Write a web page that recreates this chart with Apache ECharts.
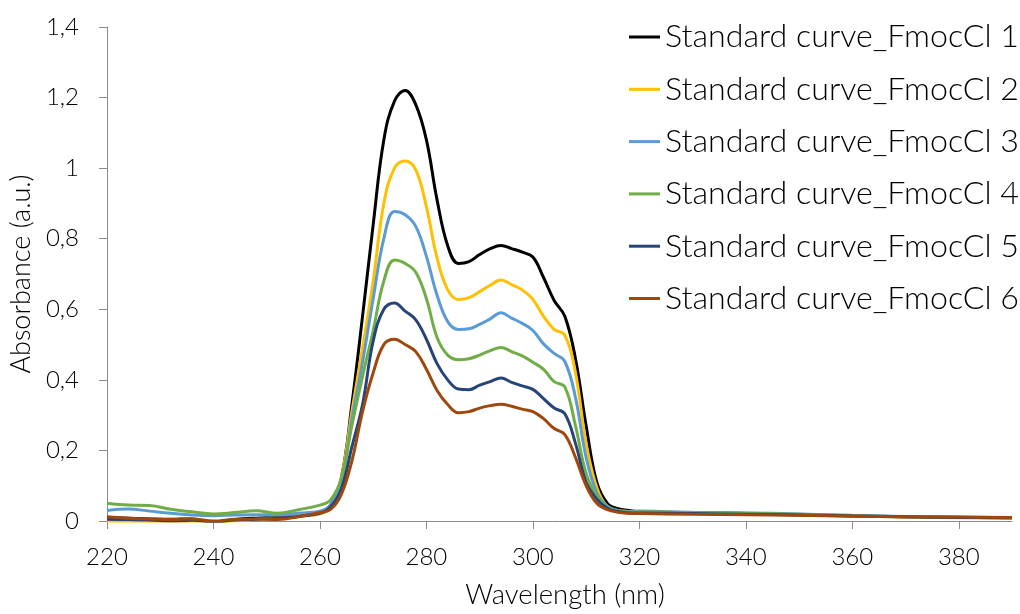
<!DOCTYPE html>
<html>
<head>
<meta charset="utf-8">
<script src="https://cdn.jsdelivr.net/npm/echarts@6/dist/echarts.min.js"></script>
<style>
  html, body { margin: 0; padding: 0; background: #fff; }
  #chart { width: 1020px; height: 614px; }
</style>
</head>
<body>
<div id="chart"></div>
<script>
// wavelength (nm)
const wavelength = [220, 224, 228, 232, 236, 240, 244, 248, 252, 256, 260,
  262, 264, 266, 268, 270, 272, 274, 276, 278, 280, 282, 284, 286, 288, 290,
  292, 294, 296, 298, 300, 302, 304, 306, 308, 310, 312, 314, 316, 318,
  320, 330, 340, 350, 360, 370, 380, 390]

const fmoc1 = [0.010, 0.008, 0.006, 0.005, 0.006, -0.004, 0.004, 0.008, 0.010, 0.014, 0.025,
  0.045, 0.12, 0.33, 0.58, 0.84, 1.08, 1.19, 1.22, 1.18, 1.08, 0.91, 0.78, 0.73, 0.735, 0.755,
  0.772, 0.781, 0.772, 0.762, 0.748, 0.69, 0.625, 0.58, 0.46, 0.27, 0.11, 0.05, 0.035, 0.03,
  0.026, 0.023, 0.021, 0.018, 0.015, 0.012, 0.010, 0.009]
const fmoc2 = [0.000, -0.003, -0.004, -0.004, -0.003, -0.004, 0.000, 0.005, 0.008, 0.015, 0.020,
  0.04, 0.12, 0.31, 0.49, 0.68, 0.90, 1.00, 1.02, 0.995, 0.89, 0.745, 0.655, 0.628, 0.633, 0.65,
  0.668, 0.683, 0.67, 0.655, 0.628, 0.58, 0.543, 0.527, 0.42, 0.22, 0.095, 0.04, 0.03, 0.027,
  0.025, 0.022, 0.020, 0.017, 0.014, 0.011, 0.009, 0.007]
const fmoc3 = [0.030, 0.034, 0.028, 0.022, 0.017, 0.015, 0.017, 0.018, 0.017, 0.022, 0.028,
  0.045, 0.11, 0.29, 0.45, 0.63, 0.80, 0.877, 0.868, 0.835, 0.75, 0.64, 0.565, 0.543, 0.545, 0.557,
  0.573, 0.59, 0.575, 0.56, 0.54, 0.502, 0.475, 0.452, 0.35, 0.18, 0.08, 0.042, 0.03, 0.027,
  0.028, 0.025, 0.023, 0.020, 0.016, 0.013, 0.011, 0.009]
const fmoc4 = [0.050, 0.045, 0.044, 0.033, 0.026, 0.020, 0.024, 0.029, 0.022, 0.032, 0.045,
  0.06, 0.12, 0.27, 0.41, 0.54, 0.68, 0.74, 0.73, 0.705, 0.63, 0.52, 0.47, 0.457, 0.46, 0.47,
  0.483, 0.492, 0.48, 0.468, 0.45, 0.43, 0.395, 0.38, 0.27, 0.135, 0.07, 0.038, 0.028, 0.025,
  0.026, 0.024, 0.022, 0.019, 0.015, 0.012, 0.010, 0.009]
const fmoc5 = [0.005, 0.004, 0.003, 0.000, 0.002, -0.002, 0.003, 0.005, 0.008, 0.013, 0.022,
  0.04, 0.09, 0.21, 0.33, 0.51, 0.60, 0.618, 0.595, 0.57, 0.515, 0.446, 0.40, 0.374, 0.372, 0.385,
  0.395, 0.405, 0.393, 0.383, 0.373, 0.347, 0.32, 0.304, 0.22, 0.11, 0.062, 0.036, 0.027, 0.023,
  0.023, 0.021, 0.019, 0.017, 0.014, 0.012, 0.010, 0.009]
const fmoc6 = [0.012, 0.008, 0.006, 0.004, 0.006, 0.000, 0.005, 0.006, 0.004, 0.012, 0.024,
  0.033, 0.075, 0.17, 0.31, 0.42, 0.50, 0.515, 0.50, 0.48, 0.43, 0.37, 0.33, 0.307, 0.31, 0.32,
  0.327, 0.331, 0.325, 0.317, 0.31, 0.29, 0.262, 0.245, 0.18, 0.10, 0.05, 0.032, 0.025, 0.022,
  0.021, 0.019, 0.018, 0.016, 0.014, 0.012, 0.011, 0.010]

const seriesNames = ['Standard curve_FmocCl 1', 'Standard curve_FmocCl 2', 'Standard curve_FmocCl 3',
  'Standard curve_FmocCl 4', 'Standard curve_FmocCl 5', 'Standard curve_FmocCl 6']
const seriesColors = ['#000000', '#FFC000', '#5B9BD5', '#70AD47', '#264478', '#9E480E']
const xTicks = [220, 240, 260, 280, 300, 320, 340, 360, 380]

const allValues = [fmoc1, fmoc2, fmoc3, fmoc4, fmoc5, fmoc6]
const font = 'Lato, "Open Sans", sans-serif'
const axisGrey = '#8c8c8c'

const chart = echarts.init(document.getElementById('chart'), null, { renderer: 'canvas' })
chart.setOption({
  animation: false,
  backgroundColor: '#ffffff',
  grid: { left: 107, right: 8, top: 27, bottom: 88 },
  legend: {
    orient: 'vertical',
    left: 629,
    top: 16,
    padding: 0,
    itemGap: 10.3,
    itemWidth: 31,
    itemHeight: 3,
    icon: 'rect',
    textStyle: { fontFamily: font, fontSize: 32.2, fontWeight: 300, color: '#000', lineHeight: 42 },
    data: seriesNames
  },
  xAxis: {
    type: 'value',
    min: 220,
    max: 390,
    interval: 20,
    name: 'Wavelength (nm)',
    nameLocation: 'middle',
    nameGap: 60,
    nameTextStyle: { fontFamily: font, fontSize: 27.5, fontWeight: 300, color: '#000', padding: [0, 0, 0, 11] },
    axisLine: { lineStyle: { color: axisGrey, width: 1 } },
    axisTick: { length: 8, lineStyle: { color: axisGrey }, customValues: xTicks },
    axisLabel: { margin: 24, fontFamily: font, fontSize: 24, fontWeight: 300, color: '#000', customValues: xTicks },
    splitLine: { show: false }
  },
  yAxis: {
    type: 'value',
    min: 0,
    max: 1.4,
    interval: 0.2,
    name: 'Absorbance (a.u.)',
    nameLocation: 'middle',
    nameGap: 72,
    nameTextStyle: { fontFamily: font, fontSize: 27, fontWeight: 300, color: '#000' },
    axisLine: { show: true, lineStyle: { color: axisGrey, width: 1 } },
    axisTick: { show: true, length: 8, lineStyle: { color: axisGrey } },
    axisLabel: {
      margin: 28,
      fontFamily: font,
      fontSize: 24,
      fontWeight: 300,
      color: '#000',
      formatter: v => String(Number(v.toFixed(1))).replace('.', ',')
    },
    splitLine: { show: false }
  },
  series: allValues.map((vals, i) => ({
    name: seriesNames[i],
    type: 'line',
    data: wavelength.map((w, j) => [w, vals[j]]),
    smooth: 0.4,
    showSymbol: false,
    symbol: 'none',
    lineStyle: { color: seriesColors[i], width: 3 },
    itemStyle: { color: seriesColors[i] }
  }))
})
</script>
</body>
</html>
